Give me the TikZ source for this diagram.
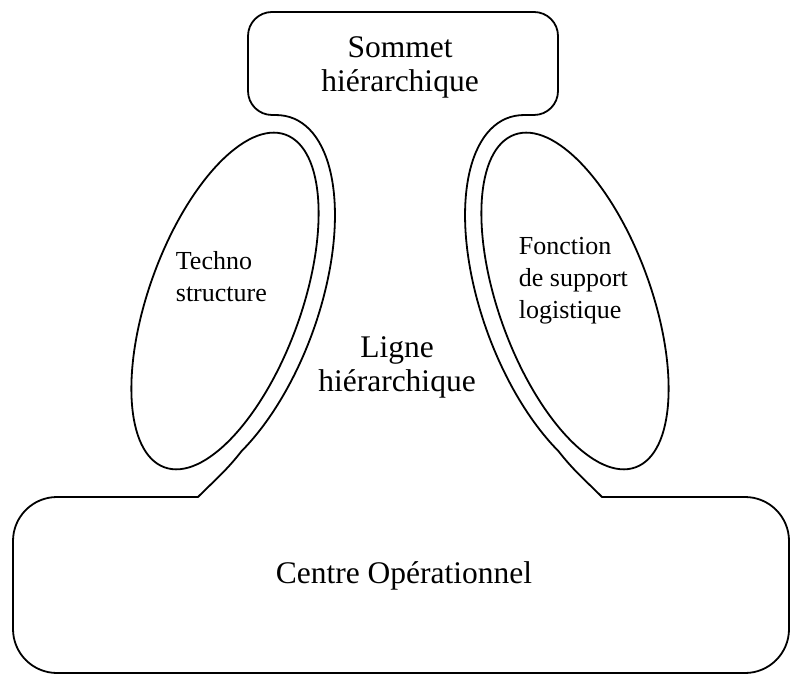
\documentclass[tikz,border=0pt]{standalone}
\usepackage{fontspec}
\setmainfont{Liberation Serif}
\begin{document}
\begin{tikzpicture}[x=0.5pt, y=0.5pt, line width=0.9pt, line join=round, line cap=round,
  biglabel/.style={align=center, inner sep=0pt, font=\fontsize{15.75}{17}\selectfont},
  smalllabel/.style={align=left, anchor=west, inner sep=0pt, font=\fontsize{13}{16}\selectfont}]
  \useasboundingbox (0,0) rectangle (791,675);

  % Centres of the two ellipses
  \coordinate (techcen) at (225,374);
  \coordinate (suppcen) at (575,374);

  % Outer outline, top part (open at the bottom)
  \draw[rounded corners=12] (275.5,560) -- (248,560) -- (248,663) -- (558,663) -- (558,560) -- (524.5,560);

  % Outer outline, bottom part (open at the top)
  \draw[rounded corners=22] (198,178) -- (13,178) -- (13,2) -- (789,2) -- (789,178) -- (602,178);

  % Outer curve round the left ellipse
  \begin{scope}[shift={(techcen)}, rotate=70]
    \draw (10:195 and 93) arc[start angle=10, end angle=-134, x radius=195, y radius=93];
    \coordinate (techfoot) at (-134:195 and 93);
  \end{scope}
  \draw (techfoot) to[out=-128, in=45] (198,178);

  % Outer curve round the right ellipse
  \begin{scope}[shift={(suppcen)}, rotate=110]
    \draw (-10:195 and 93) arc[start angle=-10, end angle=134, x radius=195, y radius=93];
    \coordinate (suppfoot) at (134:195 and 93);
  \end{scope}
  \draw (suppfoot) to[out=-52, in=135] (602,178);

  % Inner ellipses
  \draw[rotate around={70:(techcen)}] (techcen) ellipse[x radius=177, y radius=76];
  \draw[rotate around={110:(suppcen)}] (suppcen) ellipse[x radius=177, y radius=76];

  % Labels
  \node[biglabel] (sommet) at (400,608) {Sommet\\hiérarchique};
  \node[biglabel] (ligne) at (397,308) {Ligne\\hiérarchique};
  \node[biglabel] (centre) at (404,99) {Centre Opérationnel};
  \node[smalllabel] (techno) at (175,398) {Techno\\structure};
  \node[smalllabel] (support) at (518,394) {Fonction\\de support\\logistique};
\end{tikzpicture}
\end{document}
